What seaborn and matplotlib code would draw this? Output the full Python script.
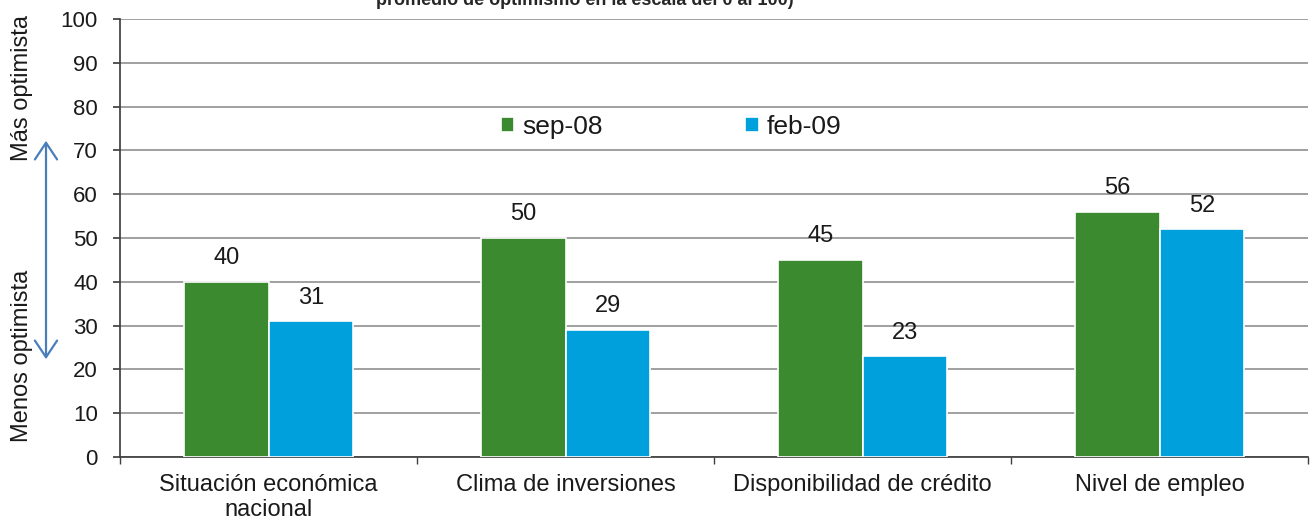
import matplotlib
matplotlib.use("Agg")
import matplotlib.pyplot as plt
import pandas as pd
import seaborn as sns
from matplotlib.patches import FancyArrowPatch

categories = ["Situación económica\nnacional", "Clima de inversiones",
              "Disponibilidad de crédito", "Nivel de empleo"]
series_names = ["sep-08", "feb-09"]
sep08 = [40, 50, 45, 56]
feb09 = [31, 29, 23, 52]
colors = ["#3B8A2F", "#00A0DC"]

df = pd.DataFrame({
    "categoria": categories * 2,
    "serie": [series_names[0]] * 4 + [series_names[1]] * 4,
    "valor": sep08 + feb09,
})

sns.set_theme(style="white")
plt.rcParams["font.family"] = ["Liberation Sans", "DejaVu Sans"]

fig = plt.figure(figsize=(13.12, 5.25), dpi=100)
ax = fig.add_axes([120 / 1312, 1 - 457 / 525, 1188 / 1312, 438 / 525])

sns.barplot(data=df, x="categoria", y="valor", hue="serie",
            palette=colors, width=0.57, edgecolor="white", linewidth=1.2,
            saturation=1, ax=ax, zorder=3)

for cont in ax.containers:
    ax.bar_label(cont, fmt="%d", padding=9, fontsize=17, color="#1a1a1a")

ax.set_ylim(0, 100)
ax.set_xlim(-0.5, 3.5)
ax.set_yticks(range(0, 101, 10))
ax.yaxis.grid(True, color="#868686", linewidth=1.1, zorder=0)
ax.set_xlabel("")
ax.set_ylabel("")
ax.tick_params(axis="y", labelsize=16, length=5, color="#404040", direction="out",
               left=True, pad=11, labelcolor="#1a1a1a")
ax.tick_params(axis="x", labelsize=17, length=0, pad=12, labelcolor="#1a1a1a")
ax.set_xticks(range(4))
ax.set_xticks([-0.5, 0.5, 1.5, 2.5, 3.5], minor=True)
ax.tick_params(axis="x", which="minor", length=5, color="#404040", bottom=True)
for side in ["top", "right"]:
    ax.spines[side].set_visible(False)
ax.spines["left"].set_color("#404040")
ax.spines["bottom"].set_color("#404040")

ax.legend(loc="center", bbox_to_anchor=(0.464, 0.753), ncol=2, frameon=False,
          fontsize=19, handlelength=0.5, handleheight=0.5, handletextpad=0.3,
          columnspacing=5.4, labelcolor="#1a1a1a")

fig.text(585 / 1312, 1 - 5 / 525, "promedio de optimismo en la escala del 0 al 100)",
         ha="center", va="baseline", fontsize=13, fontweight="bold")

fig.text(22 / 1312, 1 - 88 / 525, "Más optimista", rotation=90,
         ha="center", va="center", fontsize=17, color="#1a1a1a")
fig.text(22 / 1312, 1 - 356 / 525, "Menos optimista", rotation=90,
         ha="center", va="center", fontsize=17, color="#1a1a1a")

arrow = FancyArrowPatch((46 / 1312, 1 - 138 / 525), (46 / 1312, 1 - 362 / 525),
                        transform=fig.transFigure,
                        arrowstyle="<->,head_length=12,head_width=8",
                        color="#4A7EBB", linewidth=1.6)
fig.patches.append(arrow)

fig.savefig("out.png", dpi=100)
